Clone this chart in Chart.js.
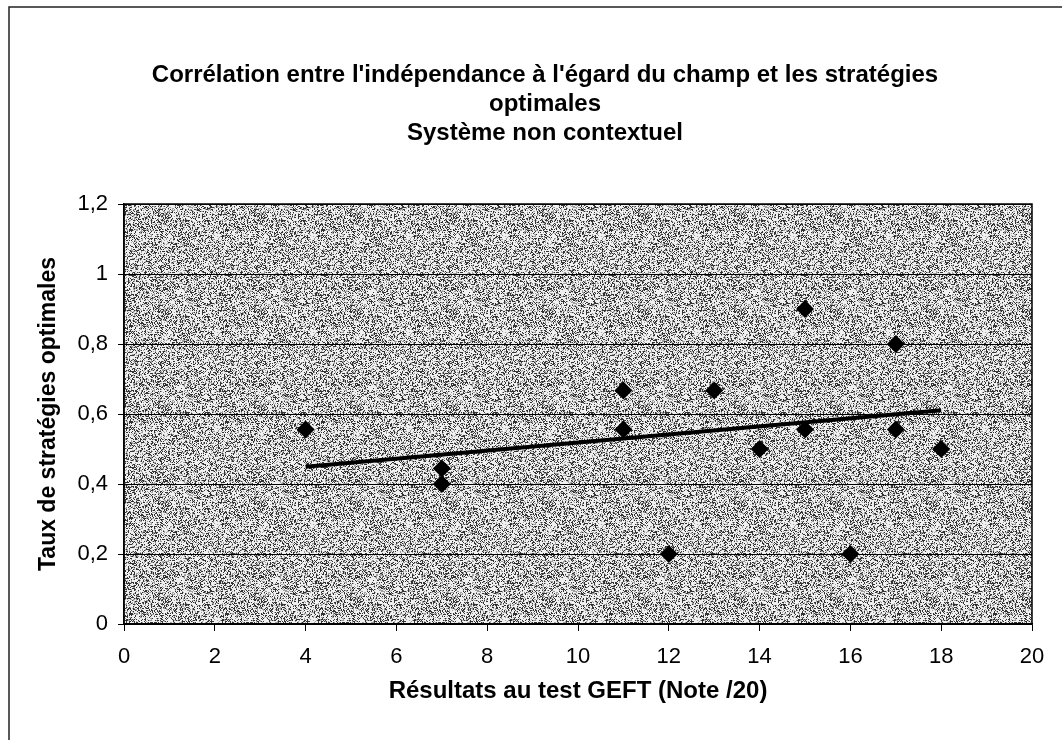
<!DOCTYPE html>
<html>
<head>
<meta charset="utf-8">
<script src="https://cdn.jsdelivr.net/npm/chart.js@4"></script>
<style>
  html, body { margin: 0; padding: 0; background: #fff; }
  canvas { display: block; }
</style>
</head>
<body>
<canvas id="gefChart" width="1062" height="740"></canvas>
<script>
// GEFT scores and the rate of optimal strategies per subject
const scores = [4, 7, 7, 11, 11, 12, 13, 14, 15, 15, 16, 17, 17, 18];
const rates = [0.556, 0.444, 0.4, 0.667, 0.556, 0.2, 0.667, 0.5, 0.9, 0.556, 0.2, 0.8, 0.556, 0.5];

// linear trend line, start and end
const trendX = [4, 18];
const trendY = [0.449, 0.611];

const yTickLabels = ['0', '0,2', '0,4', '0,6', '0,8', '1', '1,2'];
const xTickLabels = ['0', '2', '4', '6', '8', '10', '12', '14', '16', '18', '20'];

const titleLines = [
    "Corrélation entre l'indépendance à l'égard du champ et les stratégies",
    'optimales',
    'Système non contextuel'
];

const points = scores.map((x, i) => ({ x: x, y: rates[i] }));
const trend = trendX.map((x, i) => ({ x: x, y: trendY[i] }));

const FONT = '"Liberation Sans", Arial, sans-serif';

// stippled grey tile used for the plot area
function makeStipple() {
    const tile = document.createElement('canvas');
    tile.width = 96;
    tile.height = 96;
    const tctx = tile.getContext('2d');
    const img = tctx.createImageData(96, 96);
    let seed = 12345;
    for (let i = 0; i < 96 * 96; i++) {
        seed = (seed * 1103515245 + 12345) & 0x7fffffff;
        const v = (seed >> 8) % 100;
        const c = v < 55 ? 240 : (v < 75 ? 160 : 50);
        img.data[i * 4] = c;
        img.data[i * 4 + 1] = c;
        img.data[i * 4 + 2] = c;
        img.data[i * 4 + 3] = 255;
    }
    tctx.putImageData(img, 0, 0);
    return tile;
}

const plotFrame = {
    id: 'plotFrame',
    beforeDraw(chart) {
        const { ctx, chartArea: a } = chart;
        ctx.save();
        // outer frame (top and left edges)
        ctx.strokeStyle = '#222';
        ctx.lineWidth = 1.5;
        ctx.beginPath();
        ctx.moveTo(9, 740);
        ctx.lineTo(9, 7);
        ctx.lineTo(1062, 7);
        ctx.stroke();
        ctx.fillStyle = ctx.createPattern(makeStipple(), 'repeat');
        ctx.fillRect(a.left, a.top, a.right - a.left, a.bottom - a.top);
        ctx.restore();
    },
    beforeDatasetsDraw(chart) {
        const { ctx, chartArea: a } = chart;
        ctx.save();
        ctx.strokeStyle = '#000';
        ctx.lineWidth = 1.5;
        ctx.strokeRect(a.left, a.top, a.right - a.left, a.bottom - a.top);
        ctx.restore();
    },
    afterDraw(chart) {
        // three-line heading, centred over the whole frame
        const { ctx } = chart;
        ctx.save();
        ctx.fillStyle = '#000';
        ctx.font = 'bold 24px ' + FONT;
        ctx.textAlign = 'center';
        ctx.textBaseline = 'middle';
        titleLines.forEach((line, i) => ctx.fillText(line, 545, 75 + i * 29));
        ctx.restore();
    }
};

Chart.defaults.font.family = FONT;
Chart.defaults.color = '#000';

const ctx = document.getElementById('gefChart').getContext('2d');
const gefChart = new Chart(ctx, {
    type: 'scatter',
    data: {
        datasets: [{
            label: 'Taux',
            data: points,
            pointStyle: 'rectRot',
            pointRadius: 9,
            pointHoverRadius: 9,
            backgroundColor: '#000',
            borderColor: '#000',
            borderWidth: 0
        }, {
            type: 'line',
            label: 'Tendance',
            data: trend,
            borderColor: '#000',
            borderWidth: 4,
            pointRadius: 0,
            fill: false
        }]
    },
    options: {
        responsive: false,
        animation: false,
        layout: { padding: { top: 204, right: 30, bottom: 0, left: 0 } },
        plugins: {
            legend: { display: false },
            tooltip: { enabled: false },
            title: { display: false }
        },
        scales: {
            x: {
                type: 'linear',
                min: 0,
                max: 20,
                afterFit: scale => { scale.height = 116; },
                ticks: {
                    stepSize: 2,
                    padding: 13,
                    font: { size: 22 },
                    maxRotation: 0,
                    callback: (v, i) => xTickLabels[i]
                },
                grid: { drawOnChartArea: false, drawTicks: true, tickLength: 7, color: '#000' },
                border: { display: true, color: '#000', width: 1.5 },
                title: {
                    display: true,
                    text: 'Résultats au test GEFT (Note /20)',
                    font: { size: 24, weight: 'bold' },
                    padding: { top: 0, bottom: 34 }
                }
            },
            y: {
                min: 0,
                max: 1.2,
                afterFit: scale => { scale.width = 124; },
                ticks: {
                    stepSize: 0.2,
                    padding: 10,
                    font: { size: 22 },
                    callback: (v, i) => yTickLabels[i]
                },
                grid: { color: '#000', lineWidth: 1, tickLength: 6 },
                border: { display: true, color: '#000', width: 1.5 },
                title: {
                    display: true,
                    text: 'Taux de stratégies optimales',
                    font: { size: 23, weight: 'bold' },
                    padding: { top: 35, bottom: 0 }
                }
            }
        }
    },
    plugins: [plotFrame]
});
</script>
</body>
</html>
